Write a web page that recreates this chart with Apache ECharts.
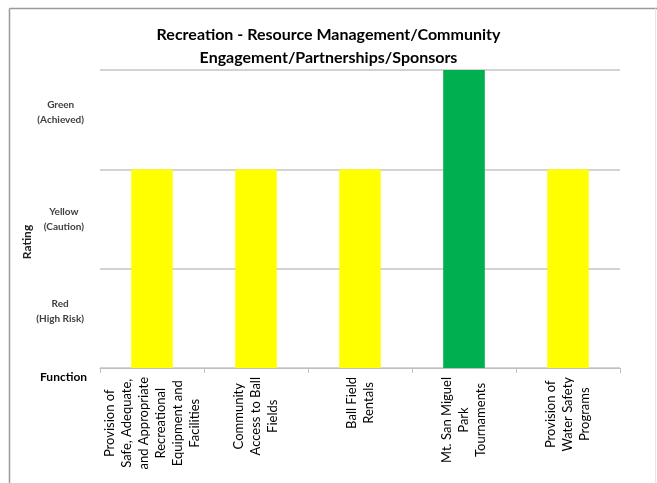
<!DOCTYPE html>
<html>
<head>
<meta charset="utf-8">
<script src="https://cdn.jsdelivr.net/npm/echarts@6/dist/echarts.min.js"></script>
<style>
html,body{margin:0;padding:0;background:#fff;}
#chart{width:657px;height:483px;}
</style>
</head>
<body>
<div id="chart"></div>
<script>
// ---- data ----
var titleText = 'Recreation - Resource Management/Community\nEngagement/Partnerships/Sponsors';
var categories = [
  'Provision of\nSafe, Adequate,\nand Appropriate\nRecreational\nEquipment and\nFacilities',
  'Community\nAccess to Ball\nFields',
  'Ball Field\nRentals',
  'Mt. San Miguel\nPark\nTournaments',
  'Provision of\nWater Safety\nPrograms'
];
var ratings = [2, 2, 2, 3, 2];            // 1 = Red, 2 = Yellow, 3 = Green
var ratingLabels = ['Red\n(High Risk)', 'Yellow\n(Caution)', 'Green\n(Achieved)'];
var ratingColors = ['#FF0000', '#FFFF00', '#00B050'];
var yAxisName = 'Rating';
var xAxisName = 'Function';

// ---- chart ----
var chart = echarts.init(document.getElementById('chart'), null, {renderer: 'canvas'});
var FONT = 'Lato, "Open Sans", sans-serif';

function centerLines(s) {
  return s.split('\n').map(function (l) { return '{c|' + (l === '' ? ' ' : l) + '}'; }).join('\n');
}

var option = {
  backgroundColor: '#ffffff',
  animation: false,
  title: {
    text: titleText,
    left: 'center',
    top: 18,
    textStyle: {
      fontFamily: FONT,
      fontSize: 16,
      fontWeight: 'bold',
      color: '#000000',
      lineHeight: 23
    }
  },
  graphic: [
    { type: 'line', shape: {x1: 9.5, y1: 8.5, x2: 660, y2: 8.5}, style: {stroke: '#9a9a9a', lineWidth: 1.5} },
    { type: 'line', shape: {x1: 9.5, y1: 8.5, x2: 9.5, y2: 490}, style: {stroke: '#9a9a9a', lineWidth: 1.5} },
    { type: 'line', shape: {x1: 655.5, y1: 8.5, x2: 655.5, y2: 490}, style: {stroke: '#e6e6e6', lineWidth: 1} },
    {
      type: 'text', left: 40, top: 371,
      style: { text: xAxisName, font: 'bold 12px ' + FONT, fill: '#000000' }
    },
    {
      type: 'text', x: 27, y: 242, rotation: Math.PI / 2,
      style: { text: yAxisName, font: 'bold 12px ' + FONT, fill: '#222222', align: 'center', verticalAlign: 'middle' }
    }
  ],
  grid: { left: 100, right: 37, top: 70, bottom: 115, containLabel: false },
  xAxis: {
    type: 'category',
    data: categories,
    boundaryGap: true,
    axisLine: { show: true, lineStyle: { color: '#bfbfbf', width: 1 } },
    axisTick: { show: true, length: 5, lineStyle: { color: '#bfbfbf' } },
    axisLabel: {
      interval: 0,
      rotate: 90,
      margin: 9,
      fontFamily: FONT,
      fontSize: 13,
      color: '#000000',
      lineHeight: 17,
      formatter: function (v) { return centerLines(v); },
      rich: { c: { align: 'center', fontFamily: FONT, fontSize: 13, color: '#000000', lineHeight: 17 } }
    }
  },
  yAxis: [
    {
      type: 'value',
      min: 0, max: 3, interval: 1,
      axisLine: { show: false },
      axisTick: { show: false },
      axisLabel: { show: false },
      splitLine: { show: true, lineStyle: { color: '#c4c4c4', width: 1.5 } }
    },
    {
      type: 'value',
      position: 'left',
      min: 0, max: 3, interval: 0.5,
      axisLine: { show: false },
      axisTick: { show: false },
      splitLine: { show: false },
      axisLabel: {
        margin: 16,
        fontFamily: FONT,
        fontSize: 10,
        fontWeight: 'bold',
        color: '#404040',
        lineHeight: 15,
        formatter: function (v) {
          var i = Math.round(v * 2);
          if (i % 2 !== 1) return '';
          var k = (i - 1) / 2;
          var txt = ratingLabels[k];
          // Excel draws the outer band labels slightly above their band centres
          if (k !== 1) txt += '\n';
          return centerLines(txt);
        },
        rich: { c: { align: 'center', fontFamily: FONT, fontSize: 10, fontWeight: 'bold', color: '#404040', lineHeight: 15 } }
      }
    }
  ],
  series: [{
    type: 'bar',
    yAxisIndex: 0,
    barWidth: '40%',
    data: ratings.map(function (r) {
      return { value: r, itemStyle: { color: ratingColors[r - 1] } };
    })
  }]
};
chart.setOption(option);
</script>
</body>
</html>
